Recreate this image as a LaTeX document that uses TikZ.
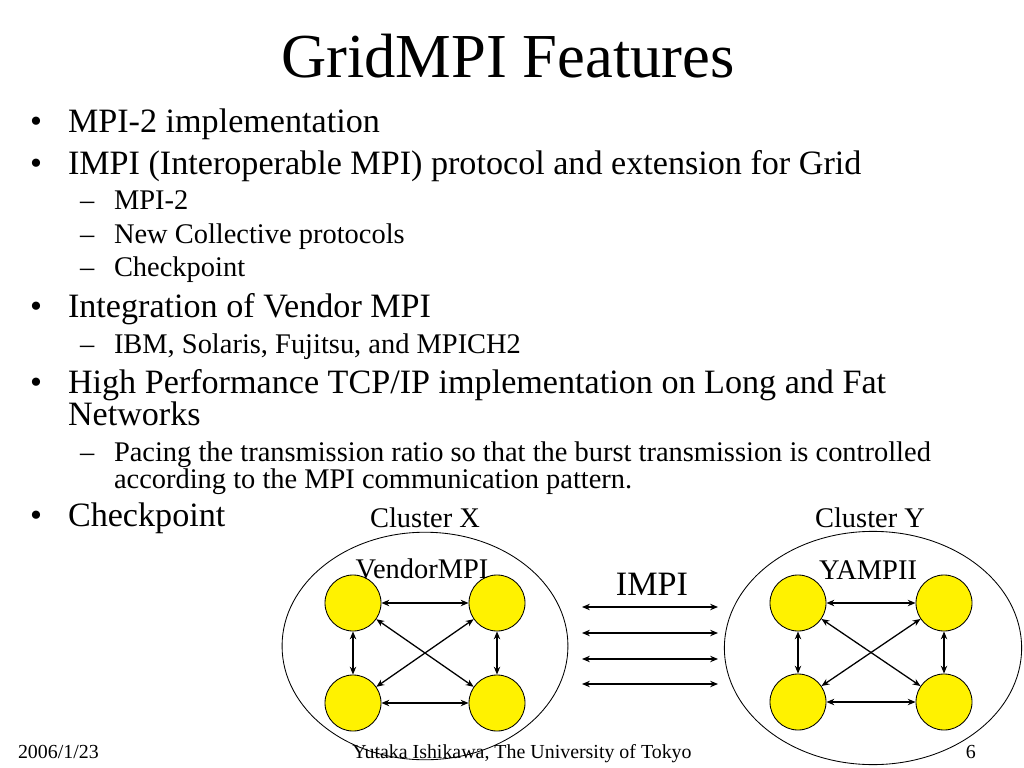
\documentclass[tikz,border=0pt]{standalone}
\usepackage{fontspec}
\setmainfont{Liberation Serif}
\usetikzlibrary{shapes.geometric,arrows.meta}
\tikzset{
  px/.style={x=0.703125pt,y=-0.703125pt},
  txt/.style={anchor=base west,inner sep=0pt,outer sep=0pt},
  ctxt/.style={anchor=base,inner sep=0pt,outer sep=0pt},
  lone/.style={txt,font=\fontsize{24}{28}\selectfont},
  ltwo/.style={txt,font=\fontsize{20}{24}\selectfont},
  proc/.style={circle,draw=black,line width=0.6pt,fill=yellow,minimum size=39.4pt,inner sep=0pt},
  clus/.style={ellipse,draw=black,line width=0.6pt,inner sep=0pt},
  link/.style={line width=0.9pt,{Stealth[length=5.5pt,width=4.5pt]}-{Stealth[length=5.5pt,width=4.5pt]}}
}
\begin{document}
\begin{tikzpicture}[px]
\path[use as bounding box,fill=white] (0,0) rectangle (1024,768);
% title
\node[ctxt,font=\fontsize{44}{50}\selectfont] (title) at (508,78) {GridMPI Features};
% bullets
\node[lone] (b1) at (30,133) {•};
\node[lone] (t1) at (68,133) {MPI-2 implementation};
\node[lone] (b2) at (30,175) {•};
\node[lone] (t2) at (68,175) {IMPI (Interoperable MPI) protocol and extension for Grid};
\node[ltwo] (d1) at (80,210) {–};
\node[ltwo] (s1) at (114,210) {MPI-2};
\node[ltwo] (d2) at (80,244) {–};
\node[ltwo] (s2) at (114,244) {New Collective protocols};
\node[ltwo] (d3) at (80,277) {–};
\node[ltwo] (s3) at (114,277) {Checkpoint};
\node[lone] (b3) at (30,318) {•};
\node[lone] (t3) at (68,318) {Integration of Vendor MPI};
\node[ltwo] (d4) at (80,353) {–};
\node[ltwo] (s4) at (114,353) {IBM, Solaris, Fujitsu, and MPICH2};
\node[lone] (b4) at (30,393) {•};
\node[lone] (t4) at (68,393) {High Performance TCP/IP implementation on Long and Fat};
\node[lone] (t4b) at (68,425) {Networks};
\node[ltwo] (d5) at (80,461) {–};
\node[ltwo] (s5) at (114,461) {Pacing the transmission ratio so that the burst transmission is controlled};
\node[ltwo] (s5b) at (114,488) {according to the MPI communication pattern.};
\node[lone] (b5) at (30,526) {•};
\node[lone] (t5) at (68,526) {Checkpoint};
% clusters
\node[clus,minimum width=201pt,minimum height=160pt] (cx) at (425,646) {};
\node[clus,minimum width=209pt,minimum height=164pt] (cy) at (873,648) {};
\node[ctxt,font=\fontsize{20}{24}\selectfont] (lx) at (425,527) {Cluster X};
\node[ctxt,font=\fontsize{20}{24}\selectfont] (ly) at (870,527) {Cluster Y};
% processes X
\node[proc] (x1) at (353,603) {};
\node[proc] (x2) at (497,603) {};
\node[proc] (x3) at (353,703) {};
\node[proc] (x4) at (497,703) {};
\node[ctxt,font=\fontsize{20}{24}\selectfont] (vx) at (422,578) {VendorMPI};
% processes Y
\node[proc] (y1) at (798,603) {};
\node[proc] (y2) at (944,603) {};
\node[proc] (y3) at (798,702) {};
\node[proc] (y4) at (944,702) {};
\node[ctxt,font=\fontsize{20}{24}\selectfont] (vy) at (868,579) {YAMPII};
% links
\foreach \c in {x,y}{
  \draw[link] (\c1) -- (\c2);
  \draw[link] (\c3) -- (\c4);
  \draw[link] (\c1) -- (\c3);
  \draw[link] (\c2) -- (\c4);
  \draw[link] (\c1) -- (\c4);
  \draw[link] (\c2) -- (\c3);
}
% IMPI
\node[ctxt,font=\fontsize{24}{28}\selectfont] (impi) at (652,595) {IMPI};
\coordinate (a1) at (582,607); \coordinate (a2) at (718,607);
\coordinate (a3) at (582,633); \coordinate (a4) at (718,633);
\coordinate (a5) at (582,659); \coordinate (a6) at (718,659);
\coordinate (a7) at (582,684); \coordinate (a8) at (718,684);
\draw[link] (a1) -- (a2);
\draw[link] (a3) -- (a4);
\draw[link] (a5) -- (a6);
\draw[link] (a7) -- (a8);
% footer
\node[txt,font=\fontsize{14}{16}\selectfont] (date) at (18,758) {2006/1/23};
\node[ctxt,font=\fontsize{14}{16}\selectfont] (auth) at (522,758) {Yutaka Ishikawa, The University of Tokyo};
\node[anchor=base east,inner sep=0pt,font=\fontsize{14}{16}\selectfont] (pg) at (976,758) {6};
\end{tikzpicture}
\end{document}
